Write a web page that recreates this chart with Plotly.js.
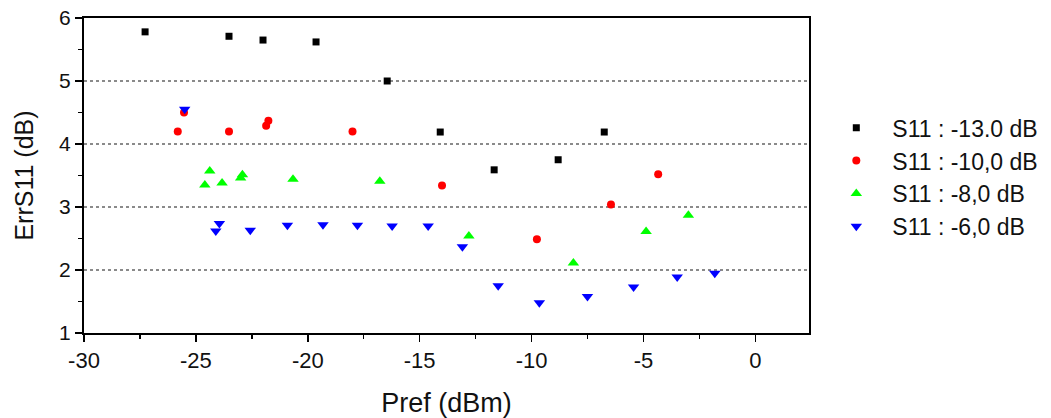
<!DOCTYPE html>
<html>
<head>
<meta charset="utf-8">
<script src="https://cdn.plot.ly/plotly-3.0.1.min.js"></script>
<style>html,body{margin:0;padding:0;background:#fff;}#chart{width:1051px;height:418px;}</style>
</head>
<body>
<div id="chart"></div>
<script>
// Series: S11 = -13.0 dB
const pref13 = [-27.27, -23.52, -22.0, -19.63, -16.45, -14.08, -11.67, -8.81, -6.75];
const err13  = [5.78, 5.71, 5.65, 5.62, 5.0, 4.19, 3.59, 3.75, 4.19];
// Series: S11 = -10.0 dB
const pref10 = [-25.81, -25.53, -23.52, -21.86, -21.76, -18.0, -14.0, -9.76, -6.45, -4.34];
const err10  = [4.20, 4.50, 4.20, 4.29, 4.37, 4.20, 3.34, 2.49, 3.04, 3.52];
// Series: S11 = -8.0 dB
const pref8 = [-24.60, -24.38, -23.83, -23.0, -22.92, -20.66, -16.78, -12.8, -8.13, -4.88, -2.99];
const err8  = [3.35, 3.57, 3.38, 3.46, 3.51, 3.44, 3.41, 2.54, 2.11, 2.61, 2.87];
// Series: S11 = -6.0 dB
const pref6 = [-25.5, -24.11, -23.95, -22.57, -20.91, -19.32, -17.78, -16.23, -14.62, -13.09, -11.49, -9.65, -7.5, -5.44, -3.49, -1.81];
const err6  = [4.55, 2.62, 2.74, 2.63, 2.71, 2.72, 2.71, 2.70, 2.70, 2.37, 1.75, 1.48, 1.58, 1.73, 1.89, 1.95];

const seriesNames = ['S11 : -13.0 dB', 'S11 : -10,0 dB', 'S11 : -8,0 dB', 'S11 : -6,0 dB'];
const xTickVals = [-30, -25, -20, -15, -10, -5, 0];
const xTickText = ['-30', '-25', '-20', '-15', '-10', '-5', '0'];
const yTickVals = [1, 2, 3, 4, 5, 6];
const yTickText = ['1', '2', '3', '4', '5', '6'];

const font = 'Liberation Sans, Arial, sans-serif';

const traces = [
  {x: pref13, y: err13, name: seriesNames[0], mode: 'markers', type: 'scatter',
   marker: {symbol: 'square', size: 7, color: '#000000'}},
  {x: pref10, y: err10, name: seriesNames[1], mode: 'markers', type: 'scatter',
   marker: {symbol: 'circle', size: 8, color: '#ff0000'}},
  {x: pref8, y: err8, name: seriesNames[2], mode: 'markers', type: 'scatter',
   marker: {symbol: 'triangle-up', size: 10, color: '#00ff00'}},
  {x: pref6, y: err6, name: seriesNames[3], mode: 'markers', type: 'scatter',
   marker: {symbol: 'triangle-down', size: 10, color: '#0000ff'}}
];

const layout = {
  width: 1051, height: 418,
  paper_bgcolor: '#ffffff', plot_bgcolor: '#ffffff',
  margin: {l: 84, r: 242, t: 18, b: 85, pad: 0, autoexpand: false},
  font: {family: font, color: '#000000'},
  showlegend: true,
  legend: {
    x: 0.7805, xanchor: 'left', xref: 'container',
    y: 0.72, yanchor: 'top', yref: 'paper',
    font: {family: font, size: 23, color: '#111111'},
    itemwidth: 62,
    bgcolor: 'rgba(0,0,0,0)',
    tracegroupgap: 0
  },
  xaxis: {
    range: [-30, 2.4],
    tickmode: 'array', tickvals: xTickVals, ticktext: xTickText,
    ticks: 'outside', ticklen: 7, tickwidth: 1.5, tickcolor: '#000',
    minor: {dtick: 2.5, tick0: -30, ticks: 'outside', ticklen: 4, tickwidth: 1.5, tickcolor: '#000', showgrid: false},
    showgrid: false, zeroline: false,
    showline: true, linecolor: '#000', linewidth: 2, mirror: true,
    tickfont: {family: font, size: 22, color: '#111'},
    title: {text: 'Pref (dBm)', font: {family: font, size: 27, color: '#111'}, standoff: 22}
  },
  yaxis: {
    range: [1, 6],
    tickmode: 'array', tickvals: yTickVals, ticktext: yTickText,
    ticks: 'outside', ticklen: 7, tickwidth: 1.5, tickcolor: '#000',
    minor: {dtick: 0.5, tick0: 1, ticks: 'outside', ticklen: 4, tickwidth: 1.5, tickcolor: '#000', showgrid: false},
    showgrid: true, gridcolor: '#8a8a8a', gridwidth: 1.2, griddash: 'dot',
    zeroline: false,
    showline: true, linecolor: '#000', linewidth: 2, mirror: true,
    tickfont: {family: font, size: 21, color: '#111'},
    title: {text: 'ErrS11 (dB)', font: {family: font, size: 25, color: '#111'}, standoff: 18}
  }
};

Plotly.newPlot('chart', traces, layout, {staticPlot: true, displayModeBar: false});
</script>
</body>
</html>
